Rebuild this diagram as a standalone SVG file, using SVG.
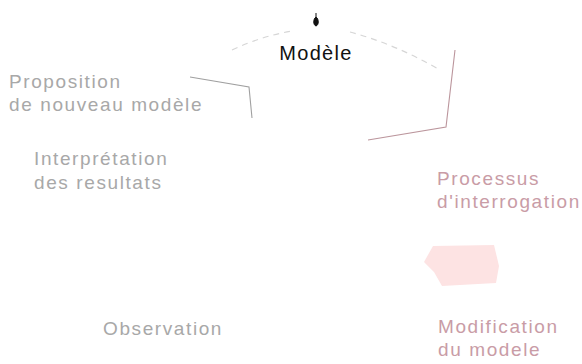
<svg xmlns="http://www.w3.org/2000/svg" width="582" height="364" viewBox="0 0 582 364">
<style>
.t{font-family:"Liberation Sans",Arial,sans-serif;font-size:19px;letter-spacing:1.6px}
.g{fill:#a8a8a8}
.p{fill:#c99ca6}
.faint{fill:none;stroke:#d6d6d6;stroke-width:1.2;stroke-dasharray:6 5}
.br{fill:none;stroke-width:1.1}
</style>
<rect width="582" height="364" fill="#ffffff"/>
<g id="connectors">
<path class="faint" d="M232,50 Q262,36 292,31"/>
<path class="faint" d="M350,32 Q395,44 440,70"/>
<path class="br" stroke="#a0a0a0" d="M190,77 L249,87 L252,118"/>
<path class="br" stroke="#bb959c" d="M455,50 L446,127 L368,140"/>
</g>
<g id="modele">
<path d="M316,13 L316,17 M316,17 C313,19 313,25 316,26 C319,25 319,19 316,17 Z" fill="#111" stroke="#111" stroke-width="1"/>
<text class="t" x="316" y="60" text-anchor="middle" style="font-size:20px;letter-spacing:1.3px" fill="#111">Modèle</text>
</g>
<g id="proposition">
<text class="t g" x="9" y="88">Proposition</text>
<text class="t g" x="9" y="111">de nouveau modèle</text>
</g>
<g id="processus">
<text class="t p" x="437" y="185">Processus</text>
<text class="t p" x="437" y="208">d'interrogation</text>
</g>
<g id="interpretation">
<text class="t g" x="34" y="165">Interprétation</text>
<text class="t g" x="34" y="189">des resultats</text>
</g>
<g id="blob">
<path d="M424,262 L433,246 L494,245 L499,266 L496,283 L442,286 L434,272 Z" fill="#fde3e3"/>
</g>
<g id="observation">
<text class="t g" x="103" y="335">Observation</text>
</g>
<g id="modification">
<text class="t p" x="438" y="333">Modification</text>
<text class="t p" x="438" y="356">du modele</text>
</g>
</svg>
